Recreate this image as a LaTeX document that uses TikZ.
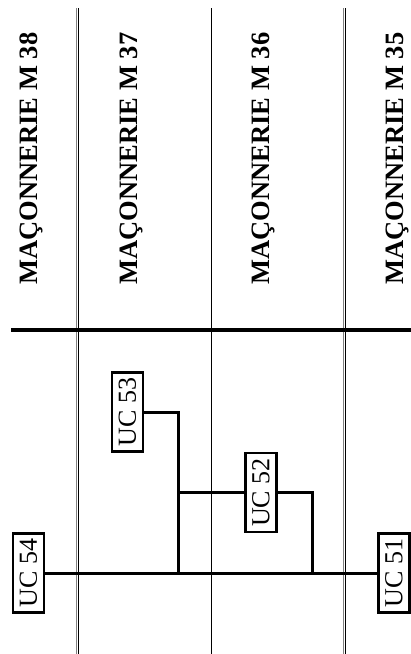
\documentclass[tikz,border=0pt]{standalone}
\usepackage{fontspec}
\setmainfont{Liberation Serif}
\usetikzlibrary{positioning, calc}

\begin{document}
\begin{tikzpicture}[x=1pt, y=-1pt,
    zone/.style={font=\fontsize{26.5}{30}\selectfont\bfseries, rotate=90, anchor=base, inner sep=0pt},
    uc/.style={rectangle, draw, line width=2.4pt, rotate=90, fill=white, inner sep=0pt, minimum width=79pt, minimum height=31pt, font=\fontsize{26}{30}\selectfont},
    sep/.style={line width=0.9pt},
    link/.style={line width=3pt},
  ]
    \useasboundingbox (0,0) rectangle (411,654);

    % column separators
    \draw[sep, gray] (76,8) -- (76,654);
    \draw[sep] (78.5,8) -- (78.5,654);
    \draw[sep] (211,8) -- (211,654);
    \draw[sep, gray] (343,8) -- (343,654);
    \draw[sep] (345.5,8) -- (345.5,654);
    \draw[line width=4pt] (11,330) -- (411,330);

    % headings
    \foreach \x/\n in {37/38, 137/37, 269/36, 403/35}
      \node[zone] (m\n) at (\x,158.5) {MAÇONNERIE M \n};

    % units
    \node[uc] (uc54) at (28.5,573) {UC 54};
    \node[uc] (uc53) at (127.5,412) {UC 53};
    \node[uc] (uc52) at (261,492.5) {UC 52};
    \node[uc] (uc51) at (394,573) {UC 51};

    \coordinate (j53) at (178,573);
    \coordinate (j52) at (312,573);

    \draw[link] (uc54) -- (uc51);
    \draw[link] (uc53.south) -| (j53);
    \draw[link] (uc52.north) -- (uc52.north -| j53);
    \draw[link] (uc52.south) -| (j52);
\end{tikzpicture}
\end{document}
